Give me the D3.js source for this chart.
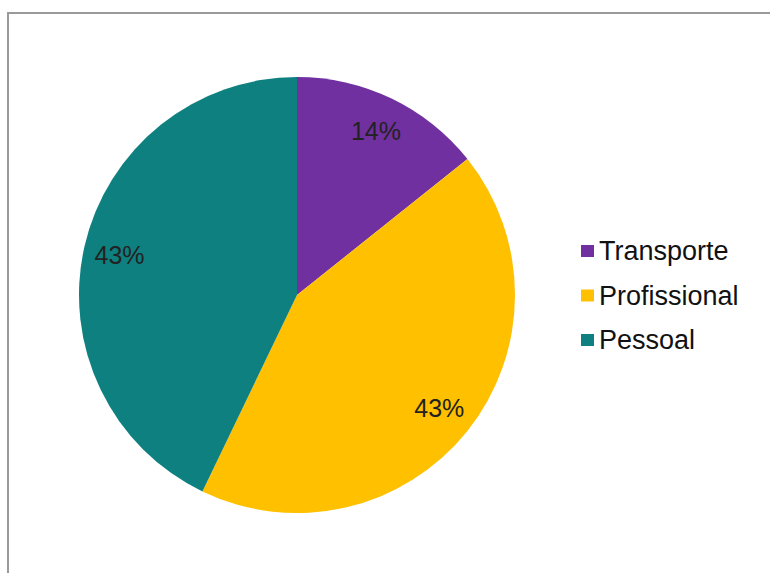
<!DOCTYPE html>
<html><head><meta charset="utf-8">
<script src="https://cdn.jsdelivr.net/npm/d3@7"></script>
<style>body{margin:0;background:#fff;} svg{display:block;}</style>
</head><body><svg id="c" width="770" height="573"></svg>
<script>
const categories = ["Transporte", "Profissional", "Pessoal"];
const values = [1, 3, 3];
const labels = ["14%", "43%", "43%"];
const colors = ["#7030A0", "#FFC000", "#0E8080"];

const svg = d3.select("#c");
svg.append("rect").attr("x", 8).attr("y", 13).attr("width", 780).attr("height", 600)
  .attr("fill", "#fff").attr("stroke", "#9a9a9a").attr("stroke-width", 2);

const cx = 297, cy = 295, R = 218;
const pie = d3.pie().sort(null).value(d => d)(values);
const arc = d3.arc().innerRadius(0).outerRadius(R);
const labelArc = d3.arc().innerRadius(182).outerRadius(182);
const g = svg.append("g").attr("transform", `translate(${cx},${cy})`);
g.selectAll("path").data(pie).join("path")
  .attr("d", arc).attr("fill", (d, i) => colors[i]);
g.selectAll("text").data(pie).join("text")
  .attr("transform", d => { const c = labelArc.centroid(d); return `translate(${c[0]},${c[1] + 9})`; })
  .attr("text-anchor", "middle")
  .attr("font-family", "Liberation Sans, Arial, sans-serif").attr("font-size", 25)
  .attr("fill", "#222").text((d, i) => labels[i]);

const y = d3.scalePoint().domain(categories).range([260, 349]);
const lg = svg.append("g");
categories.forEach((c, i) => {
  lg.append("rect").attr("x", 581).attr("y", y(c) - 15).attr("width", 13).attr("height", 12).attr("fill", colors[i]);
  lg.append("text").attr("x", 599).attr("y", y(c))
    .attr("font-family", "Liberation Sans, Arial, sans-serif").attr("font-size", 27)
    .attr("fill", "#111").text(c);
});
</script></body></html>
